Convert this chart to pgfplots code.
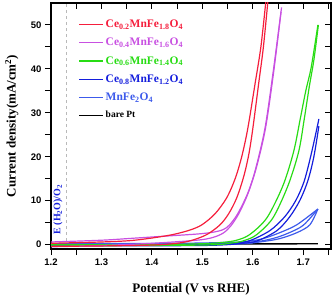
\documentclass[border=0pt]{standalone}
\usepackage{fontspec}
\setmainfont{Liberation Serif}
\setsansfont{Liberation Sans}
\usepackage{pgfplots}
\pgfplotsset{compat=1.18}
\usetikzlibrary{calc}
\definecolor{cred}{RGB}{245,30,60}
\definecolor{cmag}{RGB}{200,80,225}
\definecolor{cgreen}{RGB}{40,220,20}
\definecolor{cblue}{RGB}{20,30,220}
\definecolor{cblue2}{RGB}{60,90,235}
\begin{document}
\begin{tikzpicture}
\pgfplotsset{
  common/.style={
    scale only axis, width=280pt, height=246pt,
    xmin=1.2, xmax=1.755, ymin=-1, ymax=55,
    xtick={1.2,1.3,...,1.75}, ytick={0,10,...,50},
    minor x tick num=1, minor y tick num=1,
    major tick length=6pt, minor tick length=6pt,
    axis line style={line width=1.1pt},
    every tick/.style={line width=1pt, black},
  }
}
\begin{axis}[common, name=main,
  xtick pos=bottom, ytick pos=left, tick align=outside,
  /pgf/number format/assume math mode=true,
  ticklabel style={font=\sffamily\bfseries\fontsize{9.5}{10}\selectfont},
  xticklabel style={/pgf/number format/.cd, fixed, fixed zerofill, precision=1},
  xlabel={\textbf{Potential (V vs RHE)}},
  ylabel={\textbf{Current density(mA/cm\textsuperscript{2})}},
  label style={font=\fontsize{13}{14}\selectfont},
  xlabel style={at={(axis description cs:0.5,-0.163)}, anchor=center},
  ylabel style={at={(axis description cs:-0.14,0.5)}, anchor=center},
  legend style={draw=none, fill=none, at={(axis cs:1.252,51.9)}, anchor=north west,
    font=\bfseries\fontsize{11.5}{13}\selectfont, row sep=5.2pt,
    legend cell align=left, inner sep=1pt},
  legend image code/.code={\draw[#1] (0pt,0pt) -- (24pt,0pt);},
]
\addlegendimage{cred, line width=1.3pt}
\addlegendentry{\textcolor{cred}{Ce\textsubscript{0.2}MnFe\textsubscript{1.8}O\textsubscript{4}}}
\addlegendimage{cmag, line width=1.3pt}
\addlegendentry{\textcolor{cmag}{Ce\textsubscript{0.4}MnFe\textsubscript{1.6}O\textsubscript{4}}}
\addlegendimage{cgreen, line width=1.3pt}
\addlegendentry{\textcolor{cgreen}{Ce\textsubscript{0.6}MnFe\textsubscript{1.4}O\textsubscript{4}}}
\addlegendimage{cblue, line width=1.3pt}
\addlegendentry{\textcolor{cblue}{Ce\textsubscript{0.8}MnFe\textsubscript{1.2}O\textsubscript{4}}}
\addlegendimage{cblue2, line width=1.3pt}
\addlegendentry{\textcolor{cblue2}{MnFe\textsubscript{2}O\textsubscript{4}}}
\addlegendimage{black, line width=1.3pt}
\addlegendentry{\textcolor{black}{\fontsize{9.5}{11}\selectfont bare Pt}}

\addplot[gray!55, dashed, line width=0.8pt, forget plot] coordinates {(1.23,0.8) (1.23,55)};

% bare Pt
\addplot[black, line width=1.4pt, forget plot] coordinates {(1.2,0.1) (1.4,0.1) (1.6,0.15) (1.729,0.2)};

% MnFe2O4
\addplot[cblue2, line width=1.2pt, smooth, forget plot] coordinates {
(1.2,0.2) (1.45,0.3) (1.55,0.5) (1.588,0.7) (1.62,1.35) (1.653,2.7) (1.687,4.5) (1.729,8.1)};
\addplot[cblue2, line width=1.2pt, smooth, forget plot] coordinates {
(1.2,-0.2) (1.5,0) (1.58,0.2) (1.62,0.7) (1.653,1.35) (1.687,2.7) (1.713,4.5) (1.729,8.1)};
\addplot[cblue2, line width=1.2pt, smooth, forget plot] coordinates {
(1.2,0) (1.5,0.1) (1.6,0.6) (1.64,1.4) (1.67,2.6) (1.70,4.4) (1.729,8.1)};

% Ce0.8
\addplot[cblue, line width=1.2pt, smooth, forget plot] coordinates {
(1.2,0) (1.5,0) (1.56,0.3) (1.594,0.9) (1.634,3.2) (1.663,6.3) (1.685,10) (1.702,14.5) (1.717,21.2) (1.731,28.6)};
\addplot[cblue, line width=1.2pt, smooth, forget plot] coordinates {
(1.2,-0.3) (1.5,-0.2) (1.58,0.3) (1.61,0.9) (1.648,3.2) (1.673,6.3) (1.693,10) (1.709,14.5) (1.721,20) (1.731,27)};

% Ce0.6
\addplot[cgreen, line width=1.2pt, smooth, forget plot] coordinates {
(1.2,0.0) (1.4,0.0) (1.5,0.2) (1.54,0.5) (1.568,1.0) (1.594,2.3) (1.628,6.1) (1.660,13.5) (1.681,21.2) (1.694,28.6) (1.705,35) (1.716,40.5) (1.729,50)};
\addplot[cgreen, line width=1.2pt, smooth, forget plot] coordinates {
(1.2,-0.3) (1.5,-0.1) (1.56,0.4) (1.585,1.0) (1.608,2.3) (1.640,6.1) (1.670,13.5) (1.691,21.2) (1.702,28.6) (1.712,36) (1.721,42) (1.730,50)};

% Ce0.4
\addplot[cmag, line width=1.2pt, smooth, forget plot] coordinates {
(1.2,0.6) (1.3,1.0) (1.356,1.4) (1.422,1.9) (1.489,2.4) (1.52,2.8) (1.541,3.4) (1.554,4.5) (1.57,7) (1.59,11.7) (1.605,17) (1.624,26.4) (1.64,39) (1.657,54)};
\addplot[cmag, line width=1.2pt, smooth, forget plot] coordinates {
(1.2,-0.5) (1.3,-0.2) (1.4,0.3) (1.489,1.0) (1.52,1.6) (1.541,2.6) (1.556,4.2) (1.572,7) (1.59,11.5) (1.607,17.5) (1.625,26.4) (1.641,39) (1.656,53)};

% Ce0.2
\addplot[cred, line width=1.2pt, smooth, forget plot] coordinates {
(1.2,0.3) (1.3,0.6) (1.356,0.9) (1.4,1.5) (1.442,2.3) (1.475,3.3) (1.499,4.5) (1.525,7) (1.548,10.6) (1.565,15) (1.578,20) (1.59,26.4) (1.605,37) (1.616,45) (1.626,55.5)};
\addplot[cred, line width=1.2pt, smooth, forget plot] coordinates {
(1.2,-0.4) (1.3,-0.3) (1.4,-0.1) (1.45,0.3) (1.48,1.0) (1.509,2.3) (1.535,4.5) (1.552,7) (1.568,10.6) (1.582,15.5) (1.592,20.5) (1.6,26.4) (1.612,37) (1.621,45) (1.63,55.5)};

\node[rotate=90, text=cblue, font=\bfseries\fontsize{10}{11}\selectfont] at (axis cs:1.214,8) {E (H\textsubscript{2}O)/O\textsubscript{2}};
\end{axis}
\begin{axis}[common,
  xtick pos=top, ytick pos=right, tick align=inside,
  xticklabels={}, yticklabels={}, axis line style={draw=none}]
\end{axis}
\pgfresetboundingbox
\path ($(main.south west)+(-51pt,-50pt)$) rectangle ($(main.north east)+(2pt,3pt)$);
\end{tikzpicture}
\end{document}
